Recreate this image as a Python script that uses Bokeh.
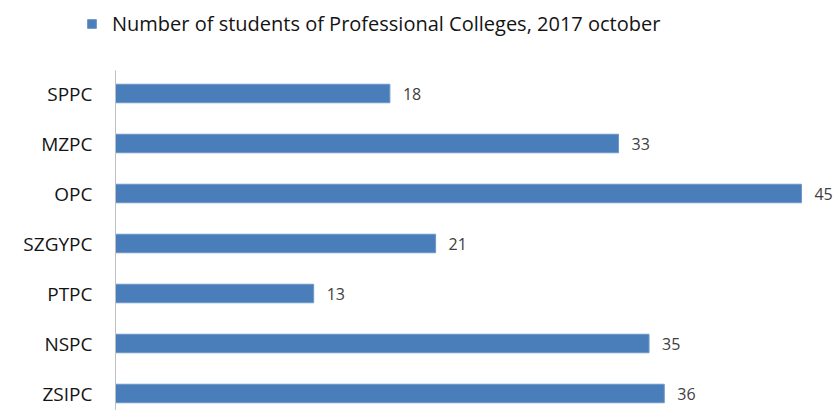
from bokeh.plotting import figure
from bokeh.models import ColumnDataSource, Range1d, Legend, LegendItem
from bokeh.core.properties import value
from bokeh.embed import file_html
from bokeh.resources import INLINE

categories = ["SPPC", "MZPC", "OPC", "SZGYPC", "PTPC", "NSPC", "ZSIPC"]
values = [18, 33, 45, 21, 13, 35, 36]
series_name = "Number of students of Professional Colleges, 2017 october"

n = len(categories)
# bottom category at position 0
ypos = [n - 1 - i for i in range(n)]

src = ColumnDataSource(dict(y=ypos, v=values, cat=categories,
                            lbl=[str(v) for v in values]))

p = figure(width=838, height=410, output_backend="svg", toolbar_location=None,
           x_range=Range1d(-7.544, 47.43), y_range=Range1d(-0.34, 7.86),
           x_axis_location=None, y_axis_location=None,
           min_border_left=0, min_border_right=0, min_border_top=0,
           min_border_bottom=0)
p.outline_line_color = None
p.grid.visible = False
p.background_fill_color = "white"
p.border_fill_color = "white"

bars = p.hbar(y="y", right="v", left=0, height=0.37, source=src,
              fill_color="#4a7ebb", line_color="#6d97c9", line_width=1)

# value labels
p.text(x="v", y="y", text="lbl", source=src, x_offset=13,
       text_baseline="middle", text_align="left", text_font_size="16px",
       text_font=value("Open Sans"), text_color="#404040")

# category axis line and labels
p.segment(x0=0, y0=-0.6, x1=0, y1=n - 1 + 0.46, line_color="#bfbfbf", line_width=1)
p.text(x=0, y="y", text="cat", source=src, x_offset=-23,
       text_baseline="middle", text_align="right", text_font_size="19px",
       text_font=value("Open Sans"), text_color="#141414")

legend = Legend(items=[LegendItem(label=series_name, renderers=[bars])],
                location=(86, 373), padding=0, margin=0,
                glyph_width=11, glyph_height=11, label_standoff=15,
                label_text_font="Open Sans", label_text_font_size="20px",
                label_text_color="#141414", border_line_color=None,
                background_fill_alpha=0)
p.add_layout(legend)

open("out.html", "w").write(file_html(p, INLINE))
